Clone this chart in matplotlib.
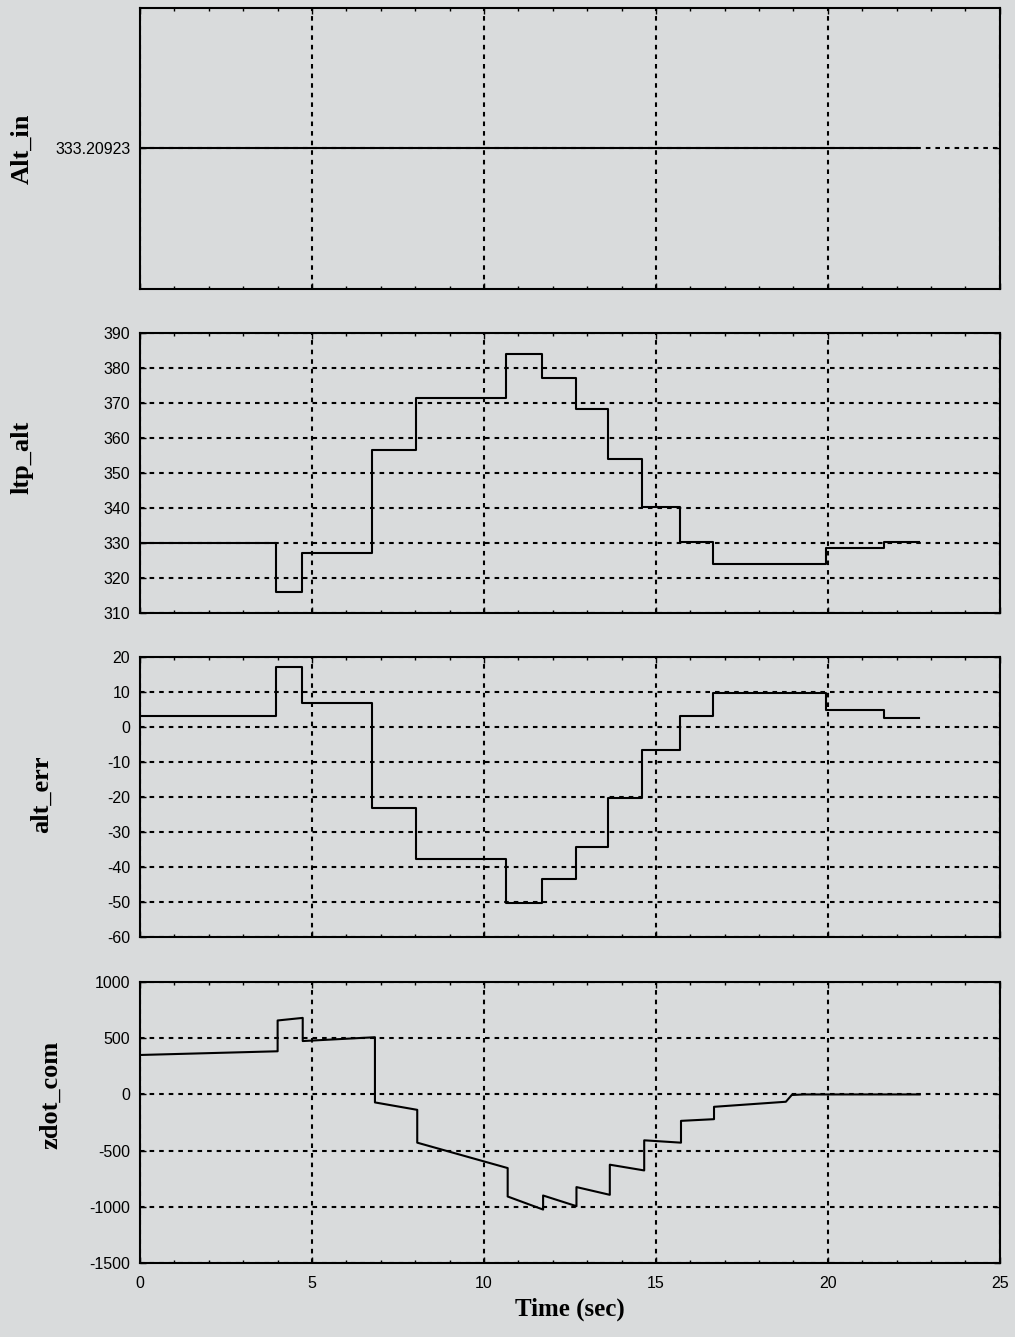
import matplotlib
matplotlib.use("Agg")
import matplotlib.pyplot as plt
from matplotlib.ticker import MultipleLocator, FixedLocator, FormatStrFormatter

# values
alt_in_value = 333.20923
alt_in_t = [0, 22.6]

step_t = [0, 3.95, 4.7, 6.73, 8.02, 10.63, 11.69, 12.67, 13.62, 14.61, 15.7, 16.65, 19.96, 21.63, 22.65]
ltp_alt = [330, 316, 327, 356.5, 371.3, 384, 377, 368.2, 354, 340.4, 330.2, 324, 328.5, 330.4, 330.4]
alt_err = [3.1, 17.1, 6.8, -23.2, -37.8, -50.4, -43.5, -34.4, -20.2, -6.6, 3.1, 9.8, 4.9, 2.7, 2.7]

zdot_t = [0, 4.0, 4.0, 4.73, 4.73, 6.83, 6.83, 8.06, 8.06, 10.69, 10.69, 11.72, 11.72,
          12.69, 12.69, 13.66, 13.66, 14.66, 14.66, 15.73, 15.73, 16.69, 16.69, 18.78,
          18.95, 19.3, 22.67]
zdot_com = [351, 384, 658, 681, 475, 509, -71, -137, -429, -655, -908, -1024, -899,
            -994, -824, -893, -625, -676, -408, -429, -235, -220, -110, -65,
            -5, 0, 0]

ylabels = ["Alt_in", "ltp_alt", "alt_err", "zdot_com"]
label_pos = [(-0.124, 0.5), (-0.124, 0.557), (-0.101, 0.51), (-0.091, 0.6)]

bg = "#d9dbdc"
serif = ["Liberation Serif", "DejaVu Serif"]
plt.rcParams["font.family"] = ["Liberation Sans", "DejaVu Sans"]
plt.rcParams["axes.unicode_minus"] = False

fig = plt.figure(figsize=(10.15, 13.37), dpi=100, facecolor=bg)
boxes = [(0.138, 0.784, 0.847, 0.210),
         (0.138, 0.5415, 0.847, 0.2095),
         (0.138, 0.2992, 0.847, 0.2094),
         (0.138, 0.0553, 0.847, 0.2102)]
axes = [fig.add_axes(b, facecolor=bg) for b in boxes]

grid_kw = dict(color="black", linestyle=(0, (2.2, 2.4)), linewidth=1.5)
line_kw = dict(color="black", linewidth=1.5)

a0, a1, a2, a3 = axes
a0.plot(alt_in_t, [alt_in_value] * len(alt_in_t), **line_kw)
a0.set_ylim(alt_in_value - 1, alt_in_value + 1)
a0.yaxis.set_major_locator(FixedLocator([alt_in_value]))
a0.yaxis.set_major_formatter(FormatStrFormatter("%.5f"))

a1.plot(step_t, ltp_alt, drawstyle="steps-post", **line_kw)
a1.set_ylim(310, 390)
a1.yaxis.set_major_locator(MultipleLocator(10))

a2.plot(step_t, alt_err, drawstyle="steps-post", **line_kw)
a2.set_ylim(-60, 20)
a2.yaxis.set_major_locator(MultipleLocator(10))

a3.plot(zdot_t, zdot_com, **line_kw)
a3.set_ylim(-1500, 1000)
a3.yaxis.set_major_locator(MultipleLocator(500))

for i, ax in enumerate(axes):
    ax.set_xlim(0, 25)
    ax.xaxis.set_major_locator(MultipleLocator(5))
    ax.xaxis.set_minor_locator(MultipleLocator(1))
    ax.grid(True, which="major", **grid_kw)
    ax.set_axisbelow(True)
    for s in ax.spines.values():
        s.set_linewidth(1.5)
        s.set_color("black")
    ax.tick_params(which="both", direction="in", top=True, right=True,
                   labelsize=11.5, colors="black")
    ax.tick_params(which="major", length=4, width=1)
    ax.tick_params(which="minor", length=2.5, width=1)
    ax.tick_params(axis="y", pad=7)
    ax.tick_params(axis="x", pad=9)
    if i < 3:
        ax.tick_params(labelbottom=False)
    ax.set_ylabel(ylabels[i], family=serif, fontweight="bold", fontsize=19)
    ax.yaxis.set_label_coords(*label_pos[i])

a3.set_xlabel("Time (sec)", family=serif, fontweight="bold", fontsize=18, labelpad=5)

fig.savefig("out.png", dpi=100, facecolor=bg)
